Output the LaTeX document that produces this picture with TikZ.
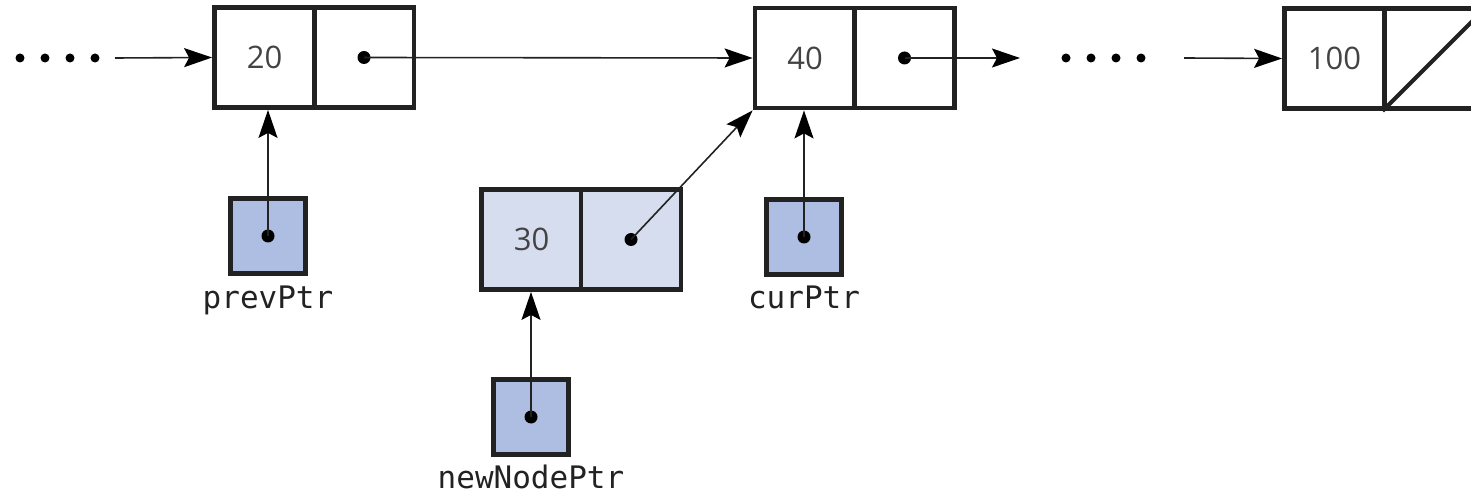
\documentclass[tikz,border=0pt]{standalone}
\usepackage{fontspec}
\setmainfont{Open Sans}
\newfontfamily\labelfont{DejaVu Sans Mono}
\usetikzlibrary{arrows.meta}
\definecolor{ptrfill}{HTML}{AEBDE2}
\definecolor{newfill}{HTML}{D5DDEE}
\definecolor{ink}{HTML}{222222}
\begin{document}
\begin{tikzpicture}[x=0.5pt,y=-0.5pt,
  cell/.style={draw=ink, line width=2.4pt, minimum width=50pt, minimum height=50pt,
    inner sep=0pt, font=\fontsize{15.5}{18}\selectfont, text=ink!85},
  newcell/.style={cell, fill=newfill},
  ptrbox/.style={draw=ink, line width=2.5pt, fill=ptrfill, minimum size=37.5pt, inner sep=0pt},
  lbl/.style={font=\labelfont\fontsize{15.5}{18}\selectfont, text=ink, inner sep=0pt, anchor=base},
  link/.style={line width=0.8pt, draw=ink,
    -{Stealth[length=14pt,width=9.5pt,inset=2.5pt,color=black]}},
  ptrdot/.style={circle, fill=black, inner sep=0pt, minimum size=6.5pt},
  elldot/.style={circle, fill=black, inner sep=0pt, minimum size=4.5pt}]

\clip (0,0) rectangle (1471,496);

% list nodes
\node[cell] (v20) at (264.5,57.5) {20};
\node[cell] (p20) at (364,57.5) {};
\node[cell] (v40) at (805,58) {40};
\node[cell] (p40) at (904.5,58) {};
\node[cell] (v100) at (1334.5,58.5) {100};
\node[cell] (p100) at (1435,58.5) {};
\draw[ink, line width=2pt] (p100.south west) -- (p100.north east);

% new node
\node[newcell] (v30) at (531.5,239.5) {30};
\node[newcell] (p30) at (631,239.5) {};

% pointer variables
\node[ptrbox] (prev) at (268,236) {};
\node[ptrbox] (cur) at (804,237) {};
\node[ptrbox] (newp) at (531,417) {};
\node[lbl] (prevlbl) at (268,309) {prevPtr};
\node[lbl] (curlbl) at (804,309) {curPtr};
\node[lbl] (newlbl) at (531,488) {newNodePtr};

% dots inside pointer fields
\node[ptrdot] (d20) at (p20.center) {};
\node[ptrdot] (d40) at (p40.center) {};
\node[ptrdot] (d30) at (p30.center) {};
\node[ptrdot] (dprev) at (prev.center) {};
\node[ptrdot] (dcur) at (cur.center) {};
\node[ptrdot] (dnew) at (newp.center) {};

% ellipses
\foreach \x [count=\i] in {20,45,70,95} \node[elldot] (ea\i) at (\x,58) {};
\foreach \x [count=\i] in {1066,1091,1116,1141} \node[elldot] (eb\i) at (\x,58) {};
\coordinate (inA) at (115,58);
\coordinate (inB) at (1184,58);
\coordinate (out40) at (1020,58);

% links
\draw[link] (inA) -- (v20.west);
\draw[link] (d20.center) -- (v40.west);
\draw[link] (d40.center) -- (out40);
\draw[link] (inB) -- (v100.west);
\draw[link] (d30.center) -- (v40.south west);
\draw[link] (dprev.center) -- (dprev.center |- v20.south);
\draw[link] (dcur.center) -- (dcur.center |- v40.south);
\draw[link] (dnew.center) -- (dnew.center |- v30.south);
\end{tikzpicture}
\end{document}
